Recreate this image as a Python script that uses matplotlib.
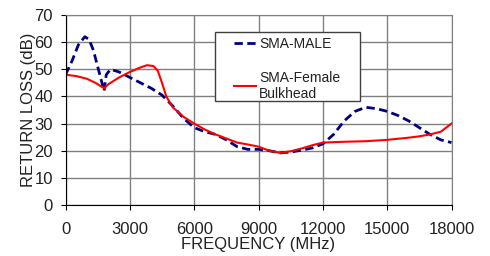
import matplotlib.pyplot as plt
from matplotlib.patches import Rectangle

plt.rcParams['font.family'] = ['Liberation Sans', 'DejaVu Sans']

# SMA-MALE (dashed)
male_f = [0, 300, 600, 900, 1100, 1300, 1500, 1700, 1800, 1900, 2100, 2500, 3000, 3500,
          4000, 4500, 5000, 5500, 6000, 6500, 7000, 7500, 8000, 8500, 9000, 9500,
          10000, 10500, 11000, 11500, 12000, 12500, 13000, 13500, 14000, 14500,
          15000, 15500, 16000, 16500, 17000, 17500, 18000]
male_rl = [48, 53, 59, 62, 61, 57, 51, 45, 42, 48, 50, 49, 47, 45,
           43, 40.5, 36.5, 32, 28.5, 27, 26, 24, 21.5, 20.5, 20.5, 20,
           19.2, 19.5, 20.2, 21, 22.5, 26, 31, 34.5, 36, 35.5,
           34.5, 33, 31, 28.5, 26, 24, 23]

# SMA-Female Bulkhead (solid)
fem_f = [0, 500, 1000, 1400, 1800, 2000, 2500, 3000, 3500, 3800, 4100, 4300, 4500,
         4700, 5000, 5500, 6000, 6500, 7000, 7500, 8000, 8500, 9000, 9500, 10000,
         10500, 11000, 11500, 12000, 13000, 14000, 15000, 16000, 16500, 17000,
         17500, 18000]
fem_rl = [48, 47.5, 46.5, 45, 43, 44.5, 47, 49, 50.7, 51.5, 51.2, 49.5, 45,
          40, 36, 32.5, 30, 27.8, 26, 24.5, 23, 22.3, 21.5, 20, 19.2,
          19.8, 20.8, 22, 23, 23.3, 23.5, 24, 24.8, 25.3, 26,
          27, 30]

fig = plt.figure(figsize=(4.9, 2.56), dpi=100)
ax = fig.add_axes([65.5 / 490, 1 - 205 / 256, 386 / 490, 190 / 256])

ax.plot(male_f, male_rl, color='#000080', lw=2, ls=(0, (3, 1.6)), label='SMA-MALE')
ax.plot(fem_f, fem_rl, color='#ff0000', lw=1.5, label='SMA-Female\nBulkhead')

ax.set_xlim(0, 18000)
ax.set_ylim(0, 70)
ax.set_xticks(range(0, 18001, 3000))
ax.set_yticks(range(0, 71, 10))
ax.grid(True, color='#808080', lw=1)
ax.tick_params(length=3.6, labelsize=12, color='black', labelcolor='#222222')
ax.tick_params(axis='x', pad=9)
ax.tick_params(axis='y', pad=5.5)
for s in ax.spines.values():
    s.set_color('#808080')
ax.spines['left'].set_color('black')
ax.spines['bottom'].set_color('black')

ax.set_xlabel('FREQUENCY (MHz)', fontsize=12, labelpad=0, color='#222222')
ax.set_ylabel('RETURN LOSS (dB)', fontsize=12, labelpad=-1, color='#222222')

# legend box (frame drawn separately, larger than the entries)
box = Rectangle((215 / 490, 1 - 101 / 256), 145 / 490, 69 / 256,
                transform=fig.transFigure, facecolor='white',
                edgecolor='#404040', lw=1, zorder=4, clip_on=False)
ax.add_patch(box)
leg = ax.legend(loc='upper left', bbox_to_anchor=(234 / 490, 1 - 36.5 / 256),
                bbox_transform=fig.transFigure, fontsize=10, frameon=False,
                handlelength=1.6, labelspacing=1.45, borderpad=0, borderaxespad=0,
                handletextpad=0.2)
for t in leg.get_texts():
    t.set_color('#222222')
leg.set_zorder(5)

plt.savefig('out.png', dpi=100)
plt.close()
